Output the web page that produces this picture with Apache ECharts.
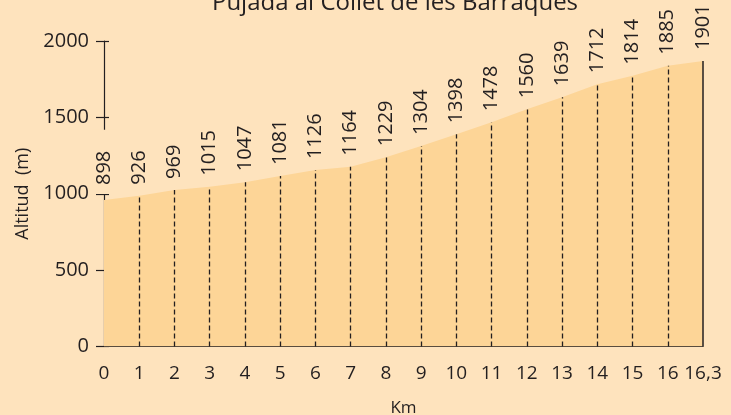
<!DOCTYPE html>
<html>
<head>
<meta charset="utf-8">
<script src="https://cdn.jsdelivr.net/npm/echarts@6/dist/echarts.min.js"></script>
<style>
html,body{margin:0;padding:0;background:#FEE3BD;}
#chart{width:731px;height:415px;}
</style>
</head>
<body>
<div id="chart"></div>
<script>
// Distance markers (km) along the climb
const kmLabels = ['0','1','2','3','4','5','6','7','8','9','10','11','12','13','14','15','16','16,3'];
// Printed altitude annotations (m)
const altitudeLabels = [898, 926, 969, 1015, 1047, 1081, 1126, 1164, 1229, 1304, 1398, 1478, 1560, 1639, 1712, 1814, 1885, 1901];
// Height of the drawn profile (m), read from the filled shape
const profile = [959, 987, 1025, 1046, 1075, 1116, 1155, 1177, 1239, 1313, 1389, 1468, 1553, 1631, 1717, 1773, 1838, 1869];
// Altitude axis
const yMin = 0, yMax = 2000, yStep = 500;

const BG = '#FEE3BD';
const FILL = '#FDD597';
const INK = '#231F20';
const FONT = 'Open Sans';

const chart = echarts.init(document.getElementById('chart'), null, {renderer: 'canvas'});

const seriesData = profile.map((v, i) => {
  if (i === 0) {
    return {value: v, label: {backgroundColor: BG, padding: [2, 21, 2, 9], distance: 6}};
  }
  return v;
});

const last = profile.length - 1;
const dropLines = [];
for (let i = 1; i <= last; i++) {
  const start = {coord: [kmLabels[i], 0]};
  if (i === last) start.lineStyle = {type: 'solid', width: 1.5, color: INK};
  dropLines.push([start, {coord: [kmLabels[i], profile[i]]}]);
}

chart.setOption({
  backgroundColor: BG,
  animation: false,
  textStyle: {fontFamily: FONT},
  title: {
    text: 'Pujada al Collet de les Barraques',
    left: 390, textAlign: 'center', top: -14,
    textStyle: {fontFamily: FONT, fontSize: 24, fontWeight: 'normal', color: INK}
  },
  grid: {left: 104, right: 28, top: 41, bottom: 68.5, containLabel: false, outerBoundsMode: 'none'},
  xAxis: {
    type: 'category', data: kmLabels, boundaryGap: false,
    axisLine: {lineStyle: {color: INK, width: 1.2}},
    axisTick: {show: false},
    axisLabel: {color: INK, fontSize: 19, margin: 18, fontFamily: FONT, interval: 0},
    splitLine: {show: false},
    name: 'Km', nameLocation: 'middle', nameGap: 53,
    nameTextStyle: {color: INK, fontSize: 17, fontFamily: FONT}
  },
  yAxis: [{
    type: 'value', min: yMin, max: yMax, interval: yStep,
    axisLine: {show: true, lineStyle: {color: INK, width: 1.2}},
    axisTick: {show: true, inside: false, length: 8, lineStyle: {color: INK, width: 1.2}},
    axisLabel: {color: INK, fontSize: 20, margin: 15, fontFamily: FONT, formatter: v => String(v)},
    splitLine: {show: false},
    name: 'Altitud  (m)', nameLocation: 'middle', nameGap: 72, nameRotate: 90,
    nameTextStyle: {color: INK, fontSize: 18, fontFamily: FONT}
  }, {
    type: 'value', position: 'left', min: yMin, max: yMax, interval: yStep,
    axisLine: {show: false},
    axisTick: {show: true, inside: true, length: 5, lineStyle: {color: INK, width: 1.2}},
    axisLabel: {show: false},
    splitLine: {show: false}
  }],
  series: [{
    type: 'line',
    yAxisIndex: 0,
    data: seriesData,
    symbol: 'circle',
    symbolSize: 0,
    showSymbol: true,
    lineStyle: {width: 0},
    areaStyle: {color: FILL, opacity: 1},
    z: 3,
    label: {
      show: true, position: 'top', distance: 11, rotate: 90,
      align: 'left', verticalAlign: 'middle',
      color: INK, fontSize: 20, fontFamily: FONT,
      formatter: p => String(altitudeLabels[p.dataIndex])
    },
    labelLayout: {hideOverlap: false},
    markLine: {
      symbol: 'none', silent: true,
      label: {show: false},
      lineStyle: {color: INK, type: [5, 3], width: 1.3},
      data: dropLines
    }
  }]
});
</script>
</body>
</html>
